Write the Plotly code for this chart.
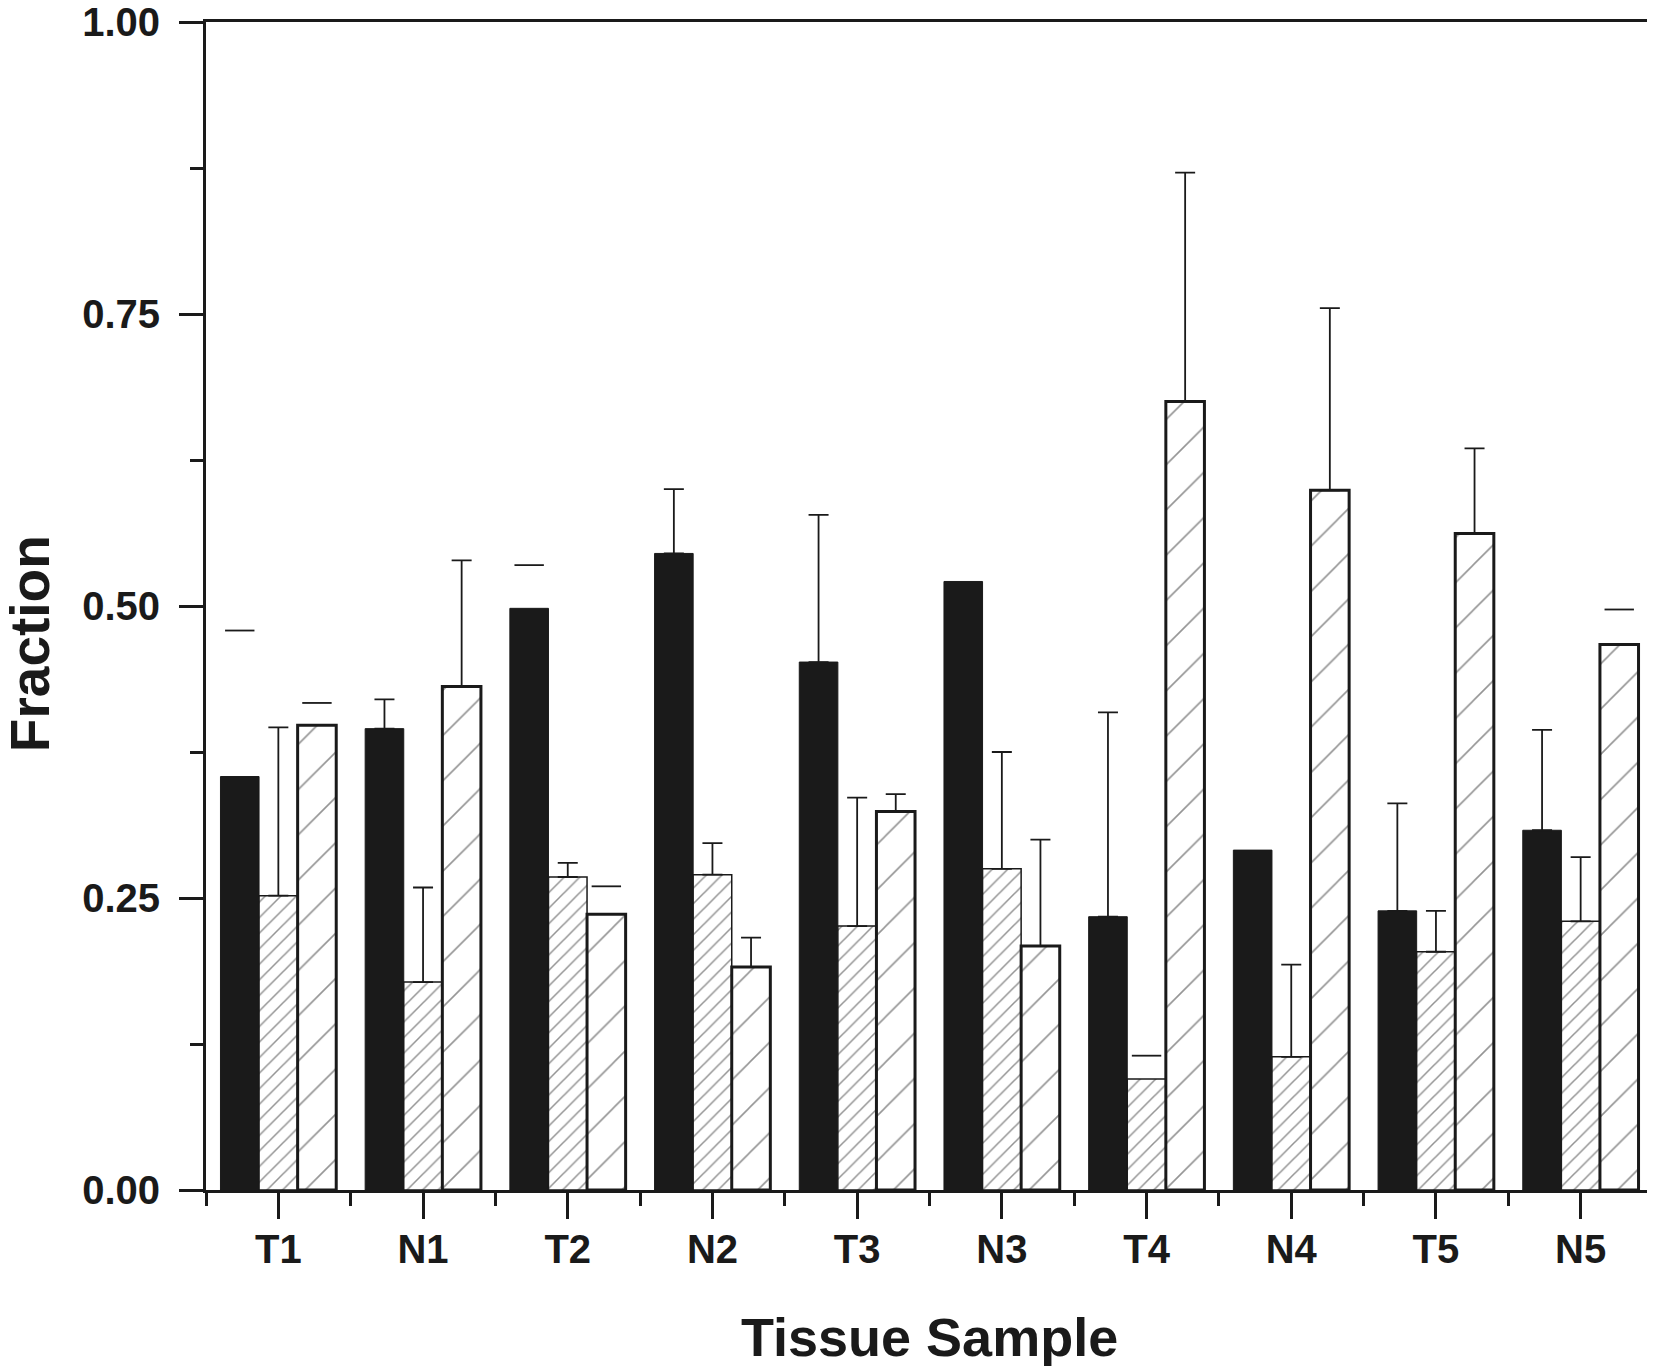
import plotly.graph_objects as go

# ---- data ----
categories = ["T1", "N1", "T2", "N2", "T3", "N3", "T4", "N4", "T5", "N5"]
series1 = [0.354, 0.395, 0.498, 0.545, 0.452, 0.521, 0.234, 0.291, 0.239, 0.308]
series2 = [0.252, 0.178, 0.268, 0.270, 0.226, 0.275, 0.095, 0.114, 0.204, 0.230]
series3 = [0.398, 0.431, 0.236, 0.191, 0.324, 0.209, 0.675, 0.599, 0.562, 0.467]

err1 = [0.125, 0.025, 0.037, 0.055, 0.126, None, 0.175, None, 0.092, 0.086]
err2 = [0.144, 0.081, 0.012, 0.027, 0.110, 0.100, 0.020, 0.079, 0.035, 0.055]
err3 = [0.019, 0.108, 0.024, 0.025, 0.015, 0.091, 0.196, 0.156, 0.073, 0.030]

# whether the error bar stem is visible (otherwise only the cap shows)
stem1 = [False, True, False, True, True, False, True, False, True, True]
stem2 = [True, True, True, True, True, True, False, True, True, True]
stem3 = [False, True, False, True, True, True, True, True, True, False]

y_ticks = [0.0, 0.25, 0.5, 0.75, 1.0]

INK = "#1a1a1a"
FONT = "Liberation Sans"

x = list(range(len(categories)))
bar_w = 0.8 / 3
offsets = [-bar_w, 0.0, bar_w]

fig = go.Figure()

styles = [
    dict(marker=dict(color=INK, line=dict(color=INK, width=1))),
    dict(marker=dict(color="white", line=dict(color=INK, width=1.5),
                     pattern=dict(shape="/", size=11, solidity=0.14,
                                  fgcolor="#2a2a2a", bgcolor="white",
                                  fillmode="overlay"))),
    dict(marker=dict(color="white", line=dict(color=INK, width=3),
                     pattern=dict(shape="/", size=32, solidity=0.05,
                                  fgcolor="#2a2a2a", bgcolor="white",
                                  fillmode="overlay"))),
]

all_series = [series1, series2, series3]
all_err = [err1, err2, err3]
all_stem = [stem1, stem2, stem3]

for k, (vals, st) in enumerate(zip(all_series, styles)):
    fig.add_trace(go.Bar(x=x, y=vals, width=bar_w, offset=offsets[k] - bar_w / 2,
                         showlegend=False, **st))

for k in range(3):
    vals, errs, stems = all_series[k], all_err[k], all_stem[k]
    sx, sy, se = [], [], []
    cx, cy = [], []
    for i in range(len(categories)):
        if errs[i] is None:
            continue
        if stems[i]:
            sx.append(x[i] + offsets[k]); sy.append(vals[i]); se.append(errs[i])
        else:
            cx.append(x[i] + offsets[k]); cy.append(vals[i] + errs[i])
    fig.add_trace(go.Scatter(
        x=sx, y=sy, mode="markers",
        marker=dict(size=1, color="rgba(0,0,0,0)"),
        error_y=dict(type="data", array=se, arrayminus=[0] * len(se),
                     symmetric=False, color=INK, thickness=1.8, width=10),
        showlegend=False, hoverinfo="skip"))
    fig.add_trace(go.Scatter(
        x=cx, y=cy, mode="markers",
        marker=dict(symbol="line-ew", size=21, line=dict(color=INK, width=1.8)),
        showlegend=False, hoverinfo="skip"))

tickfont = dict(family=FONT, size=40, color=INK, weight="bold")

# the page body adds an 8px offset, so the figure is 8px smaller on each side
fig.update_layout(
    width=1647, height=1358,
    margin=dict(l=198, r=2, t=14, b=176, autoexpand=False),
    paper_bgcolor="white", plot_bgcolor="white",
    barmode="overlay",
    font=dict(family=FONT, color=INK),
    xaxis=dict(
        range=[-0.5, 9.5], tickmode="array", tickvals=x, ticktext=categories,
        ticks="outside", ticklen=26, tickwidth=3, tickcolor=INK,
        showline=True, linewidth=3, linecolor=INK, mirror=True,
        showgrid=False, zeroline=False, tickfont=tickfont, automargin=False,
        ticklabelstandoff=-4, ticklabeloverflow="allow",
        minor=dict(tickmode="array", tickvals=[i - 0.5 for i in range(len(categories) + 1)],
                   ticks="outside", ticklen=13, tickwidth=3, tickcolor=INK, showgrid=False),
    ),
    yaxis=dict(
        range=[0, 1], tickmode="array", tickvals=y_ticks,
        ticktext=[f"{v:.2f}" for v in y_ticks],
        ticks="outside", ticklen=24, tickwidth=3, tickcolor=INK,
        showline=True, linewidth=3, linecolor=INK, mirror=True,
        showgrid=False, zeroline=False, tickfont=tickfont, automargin=False,
        ticklabelstandoff=11, ticklabeloverflow="allow",
        minor=dict(dtick=0.125, tick0=0, ticks="outside", ticklen=13, tickwidth=3,
                   tickcolor=INK, showgrid=False),
    ),
    annotations=[
        dict(text="Tissue Sample", xref="paper", yref="paper", x=0.5, y=-0.0985,
             xanchor="center", yanchor="top", showarrow=False,
             font=dict(family=FONT, size=54, color=INK, weight="bold")),
        dict(text="Fraction", xref="paper", yref="paper", x=-0.1215, y=0.4675,
             xanchor="center", yanchor="middle", textangle=-90, showarrow=False,
             font=dict(family=FONT, size=55, color=INK, weight="bold")),
    ],
)

fig.write_html("out.html")
